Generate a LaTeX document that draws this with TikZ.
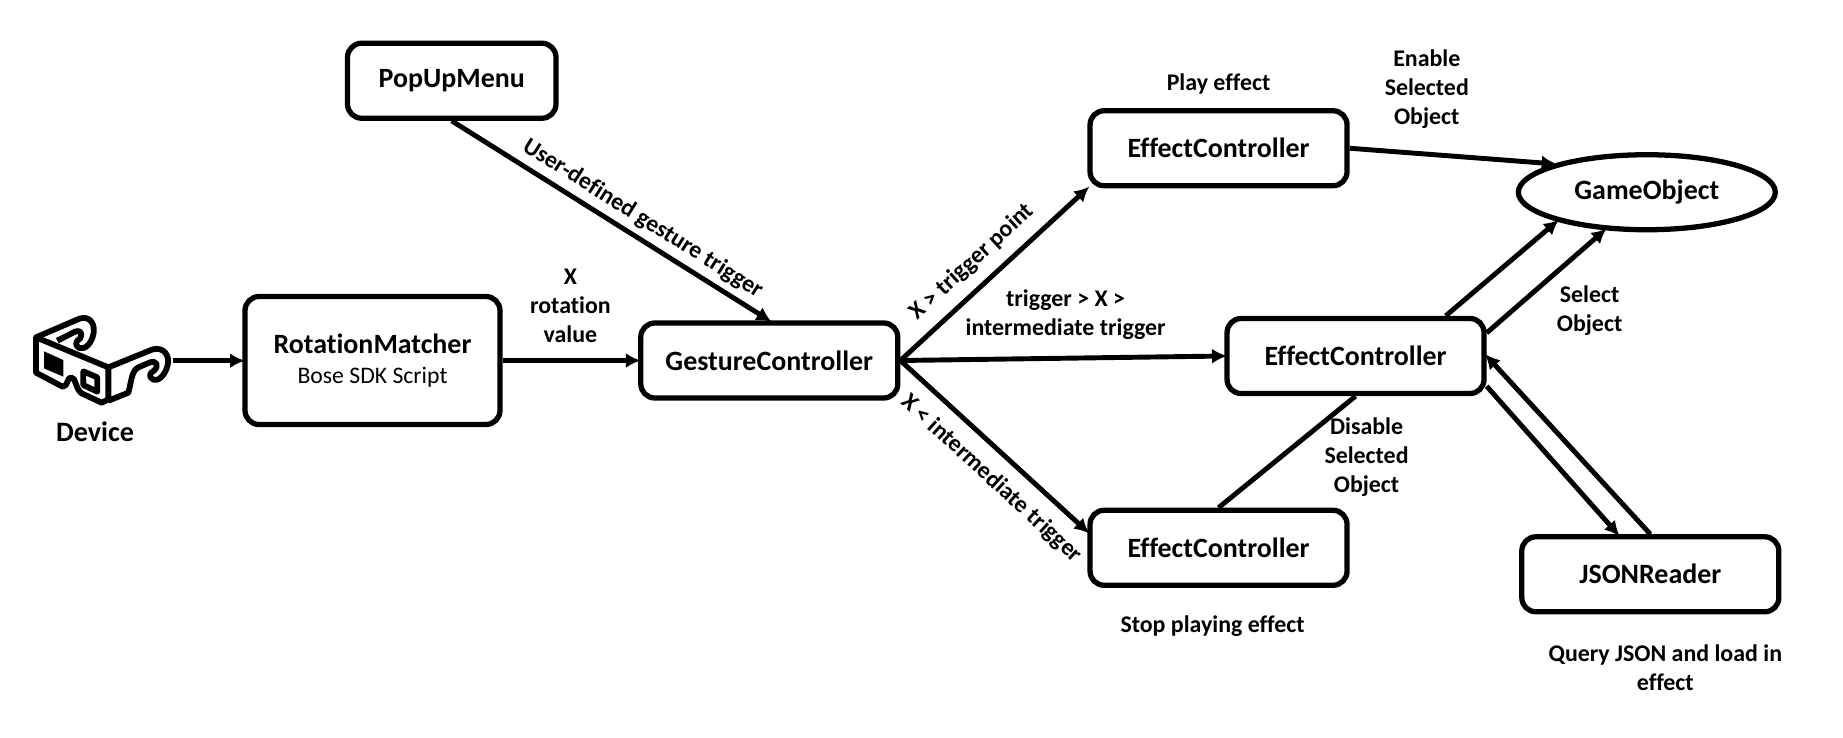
\documentclass[tikz,border=0pt]{standalone}
\usepackage{fontspec}
\setmainfont{Carlito}[Ligatures=NoCommon]
\usetikzlibrary{arrows.meta,positioning,calc,shapes.geometric}

\begin{document}
\begin{tikzpicture}[
  box/.style={draw, line width=3pt, rounded corners=8pt, align=center, minimum width=5.14cm, minimum height=1.5cm, inner sep=0pt, font=\fontsize{15.9}{18}\selectfont\bfseries},
  oval/.style={draw, ellipse, line width=3pt, align=center, minimum width=5.14cm, minimum height=1.5cm, inner sep=0pt, font=\fontsize{15.9}{18}\selectfont\bfseries},
  arr/.style={-{Latex[length=0.3cm,width=0.3cm]}, line width=2.8pt, shorten >=-1.5pt},
  plain/.style={line width=2.8pt},
  note/.style={align=center, font=\fontsize{13.6}{16.5}\selectfont\bfseries},
  glass/.style={line width=3.3pt, line join=round, fill=white}
]

\useasboundingbox (0,0) rectangle (36.86,-14.74);

\node[box, minimum width=5.1cm, minimum height=2.56cm] (rot) at (7.45,-7.21) {RotationMatcher\\[-1pt]{\fontsize{13.5}{16}\selectfont\mdseries Bose SDK Script}};
\node[box, right=2.71cm of rot] (gest) {GestureController};
\node[box, minimum width=4.17cm, above left=3.99cm and 1.59cm of gest] (pop) {PopUpMenu};
\node[box, above right=2.64cm and 3.74cm of gest] (efftop) {EffectController};
\node[box, right=6.48cm of gest, yshift=0.09cm] (effmid) {EffectController};
\node[box, below right=2.14cm and 3.74cm of gest] (effbot) {EffectController};
\node[oval, right=3.32cm of efftop, yshift=-0.88cm] (game) {GameObject};
\node[box, below right=2.76cm and 0.65cm of effmid] (json) {JSONReader};

\begin{scope}[shift={(0cm,-5.6cm)}, x=0.00667cm, y=-0.00667cm]
  \draw[glass] (108,172) -- (238,116) .. controls (268,106) and (285,130) .. (281,158) .. controls (276,190) and (255,210) .. (238,204) .. controls (224,198) and (226,182) .. (240,176) .. controls (250,160) and (240,148) .. (225,155) -- (172,182);
  \draw[glass] (325,262) -- (458,208) .. controls (490,200) and (510,225) .. (503,255) .. controls (496,285) and (475,305) .. (460,299) .. controls (445,292) and (448,278) .. (462,272) .. controls (478,258) and (470,240) .. (450,247) -- (415,262) .. controls (395,272) and (395,300) .. (385,338) -- (325,362);
  \draw[glass] (108,172) -- (325,262) -- (325,358) -- (305,368) -- (245,340) .. controls (225,325) and (228,292) .. (213,292) .. controls (200,292) and (205,320) .. (188,320) -- (108,278) -- cycle;
  \fill (132,214) -- (190,240) -- (190,290) -- (132,265) -- cycle;
  \draw[glass] (250,274) -- (292,292) -- (292,335) -- (250,315) -- cycle;
  \coordinate (glassend) at (520,242);
\end{scope}
\node[note, font=\fontsize{16}{18}\selectfont\bfseries] (device) at (1.9,-8.64) {Device};

\draw[arr] (glassend) -- (glassend -| rot.west);
\draw[arr] (rot) -- node[note, above=0.2cm] {X\\rotation\\value} (gest);
\draw[arr] (pop.south) -- node[note, pos=0.57, above, sloped] {User-defined gesture trigger} (gest.north);
\draw[arr] (gest.east) -- node[note, pos=0.47, above=3pt, sloped] {X > trigger point} (efftop.south west);
\draw[arr] (gest.east) -- node[note, pos=0.51, above=0.2cm] {trigger > X >\\intermediate trigger} (effmid.west);
\draw[arr] (gest.east) -- node[note, pos=0.58, below=4pt, sloped] {X < intermediate trigger} (effbot.173);

\draw[arr] (efftop.east) -- (game.163);
\draw[arr] (effmid.24) -- (game.198);
\draw[arr] (effmid.10) -- (game.222);
\draw[plain] (effbot.north) -- (effmid.south);
\draw[arr] (effmid.-13) -- (json.129);
\draw[arr] (json.north) -- (effmid.east);

\node[note, above=0.16cm of efftop] (play) {Play effect};
\node[note, right=2.04cm of play, yshift=-0.12cm] (enable) {Enable\\Selected\\Object};
\node[note, below=0.44cm of effbot, xshift=-0.12cm] (stop) {Stop playing effect};
\node[note, above right=0.29cm and 1.28cm of effmid.east] (select) {Select\\Object};
\node[note, below=0.3cm of effmid, xshift=0.22cm] (disable) {Disable\\Selected\\Object};
\node[note, below=0.48cm of json, xshift=0.3cm] (query) {Query JSON and load in\\effect};

\end{tikzpicture}
\end{document}
